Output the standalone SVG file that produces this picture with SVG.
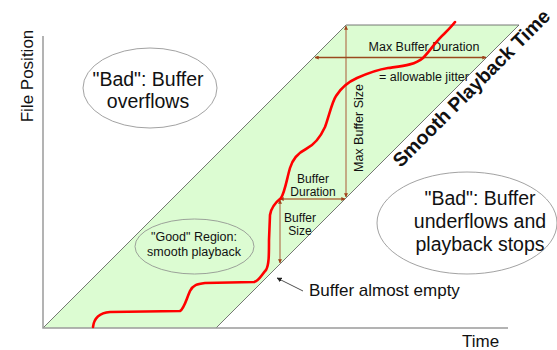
<svg xmlns="http://www.w3.org/2000/svg" width="557" height="350" viewBox="0 0 557 350">
  <style>
    text { font-family: "Liberation Sans", Arial, sans-serif; fill: #111; }
    .big { font-size: 19.5px; }
    .mid { font-size: 17px; }
    .small { font-size: 12.5px; }
    .tight { font-size: 12px; }
    .axis { stroke: #9a9a9a; stroke-width: 1.5; fill: none; }
    .edge { stroke: #555; stroke-width: 0.8; fill: none; }
    .bubble { stroke: #8a8a8a; stroke-width: 0.8; fill: none; }
    .dark { stroke: #9a4a1e; stroke-width: 1.5; }
    .tan { stroke: #c3ab84; stroke-width: 2; }
    .rust { stroke: #b07446; stroke-width: 1.5; }
  </style>
  <defs>
    <marker id="tip" viewBox="0 0 6 6" refX="5.5" refY="3" markerWidth="4" markerHeight="4" markerUnits="userSpaceOnUse" orient="auto-start-reverse">
      <path d="M0,0 L6,3 L0,6 Z" fill="#a0401a"/>
    </marker>
    <marker id="ptr" viewBox="0 0 8 8" refX="7.5" refY="4" markerWidth="5" markerHeight="5" markerUnits="userSpaceOnUse" orient="auto">
      <path d="M0,0 L8,4 L0,8 Z" fill="#222"/>
    </marker>
  </defs>

  <!-- band of smooth playback -->
  <g id="band">
    <polygon points="43,328 346,25 519,25 216,328" fill="#dcfcd2"/>
    <polyline class="edge" points="43,328 346,25 519,25 216,328"/>
  </g>

  <!-- axes -->
  <g id="axes">
    <polyline class="axis" points="43,36 43,328 508,328"/>
    <text class="mid" transform="translate(33,76) rotate(-90)" text-anchor="middle">File Position</text>
    <text class="mid" x="462" y="347">Time</text>
  </g>

  <!-- dimension lines -->
  <g id="connectors">
    <line class="tan" x1="346" y1="26" x2="346" y2="197" marker-start="url(#tip)" marker-end="url(#tip)"/>
    <line class="dark" x1="315" y1="57.5" x2="486" y2="57.5" marker-start="url(#tip)" marker-end="url(#tip)"/>
    <line class="rust" x1="280" y1="199" x2="345" y2="199" marker-start="url(#tip)" marker-end="url(#tip)"/>
    <line class="tan" x1="280" y1="200" x2="280" y2="263" marker-start="url(#tip)" marker-end="url(#tip)"/>
    <line x1="303" y1="291" x2="277" y2="278" stroke="#222" stroke-width="0.8" marker-end="url(#ptr)"/>
  </g>

  <g id="max-buffer-duration">
    <text class="small" x="424" y="51" text-anchor="middle">Max Buffer Duration</text>
    <text class="small" x="379" y="81">= allowable jitter</text>
  </g>
  <g id="max-buffer-size">
    <text class="small" transform="translate(363,128) rotate(-90)" text-anchor="middle">Max Buffer Size</text>
  </g>
  <g id="buffer-duration">
    <text class="tight" x="313" y="183" text-anchor="middle">Buffer</text>
    <text class="tight" x="313" y="196" text-anchor="middle">Duration</text>
  </g>
  <g id="buffer-size">
    <text class="tight" x="300" y="222" text-anchor="middle">Buffer</text>
    <text class="tight" x="300" y="235" text-anchor="middle">Size</text>
  </g>
  <g id="buffer-almost-empty">
    <text class="mid" x="309" y="296">Buffer almost empty</text>
  </g>

  <g id="smooth-playback-time">
    <text transform="translate(476,93) rotate(-45)" text-anchor="middle" font-size="19.5" font-weight="bold">Smooth Playback Time</text>
  </g>

  <g id="bad-overflow">
    <ellipse class="bubble" cx="150" cy="88" rx="67" ry="40"/>
    <text class="big" x="148" y="86" text-anchor="middle">"Bad": Buffer</text>
    <text class="big" x="148" y="108" text-anchor="middle">overflows</text>
  </g>

  <g id="good-region">
    <ellipse class="bubble" cx="194.5" cy="246.5" rx="59.5" ry="27.5"/>
    <text class="small" x="194" y="241" text-anchor="middle">"Good" Region:</text>
    <text class="small" x="194" y="256" text-anchor="middle">smooth playback</text>
  </g>

  <g id="bad-underflow">
    <ellipse class="bubble" cx="467" cy="223" rx="90" ry="51"/>
    <text class="big" x="480" y="205" text-anchor="middle">"Bad": Buffer</text>
    <text class="big" x="480" y="228" text-anchor="middle">underflows and</text>
    <text class="big" x="480" y="251" text-anchor="middle">playback stops</text>
  </g>

  <!-- playback position curve -->
  <g id="playback-curve">
    <path d="M93,327 C94,318 99,313 110,312 L180,311 C184,309 186,300 190,291 C193,285 197,284 205,283 L254,282 C259,281 262,274 266,270 C269,265 269,255 269,240 L270,215 C271,208 276,202 281,198 C285,192 287,178 290,168 C293,158 298,153 306,149 C314,145 320,138 325,127 C329,116 332,102 336,96 C341,88 348,82 357,78 C366,74 375,70 388,68 C402,66 415,65 423,58 C430,51 436,41 444,34 C449,29 452,26 455,22" fill="none" stroke="#f00" stroke-width="2.6" stroke-linejoin="round" stroke-linecap="round"/>
  </g>
</svg>
